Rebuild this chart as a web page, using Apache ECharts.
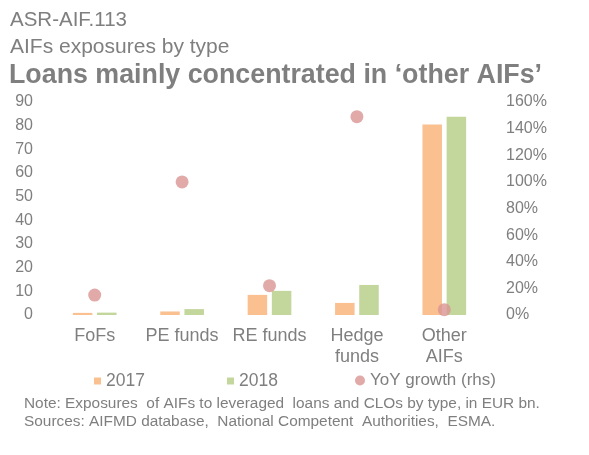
<!DOCTYPE html>
<html>
<head>
<meta charset="utf-8">
<script src="https://cdn.jsdelivr.net/npm/echarts@6/dist/echarts.min.js"></script>
<style>
  html, body { margin: 0; padding: 0; background: #ffffff; }
  #chart { width: 589px; height: 455px; }
</style>
</head>
<body>
<div id="chart"></div>
<script>
// AIF exposures to leveraged loans and CLOs, EUR bn, by fund type
const categories = ['FoFs', 'PE funds', 'RE funds', 'Hedge\nfunds', 'Other\nAIFs'];
const exposures2017 = [0.9, 1.5, 8.5, 5.1, 80.5];
const exposures2018 = [1.0, 2.5, 10.2, 12.7, 83.8];
const yoyGrowth = [15, 100, 22, 149, 4];   // per cent, right-hand scale

const leftTicks = { min: 0, max: 90, interval: 10 };
const rightTicks = { min: 0, max: 160, interval: 20 };

const FONT = '"Liberation Sans", Arial, Helvetica, sans-serif';
const GREY = '#7f7f7f';
const C2017 = '#fac090';
const C2018 = '#c3d69b';
const CYOY = '#d99594';

const chart = echarts.init(document.getElementById('chart'), null, { renderer: 'canvas' });

function textEl(x, y, text, size, weight) {
  return {
    type: 'text',
    x: x, y: y,
    style: {
      text: text,
      fontFamily: FONT,
      fontSize: size,
      fontWeight: weight || 'normal',
      fill: GREY,
      verticalAlign: 'middle',
      align: 'left'
    }
  };
}

chart.setOption({
  animation: false,
  backgroundColor: '#ffffff',
  textStyle: { fontFamily: FONT },
  graphic: [
    textEl(10, 20, 'ASR-AIF.113', 20.5),
    textEl(10, 47.5, 'AIFs exposures by type', 21),
    textEl(9, 75.5, 'Loans mainly concentrated in \u2018other AIFs\u2019', 26.8, 'bold'),
    textEl(24, 404, 'Note: Exposures  of AIFs to leveraged  loans and CLOs by type, in EUR bn.', 15.4),
    textEl(24, 422, 'Sources: AIFMD database,  National Competent  Authorities,  ESMA.', 15.4)
  ],
  grid: { left: 51, right: 101, top: 102, bottom: 140, containLabel: false },
  legend: [
    {
      left: 94, top: 372, itemWidth: 7, itemHeight: 7, padding: 0,
      icon: 'rect',
      textStyle: { color: GREY, fontSize: 17.5, fontFamily: FONT },
      data: ['2017']
    },
    {
      left: 227, top: 372, itemWidth: 7, itemHeight: 7, padding: 0,
      icon: 'rect',
      textStyle: { color: GREY, fontSize: 17.5, fontFamily: FONT },
      data: ['2018']
    },
    {
      left: 355, top: 372, itemWidth: 10, itemHeight: 10, padding: 0,
      icon: 'circle',
      textStyle: { color: GREY, fontSize: 17, fontFamily: FONT },
      data: ['YoY growth (rhs)']
    }
  ],
  xAxis: {
    type: 'category',
    data: categories,
    axisLine: { show: false },
    axisTick: { show: false },
    splitLine: { show: false },
    axisLabel: {
      color: GREY, fontSize: 18, fontFamily: FONT,
      lineHeight: 21.5, margin: 10, interval: 0
    }
  },
  yAxis: [
    {
      type: 'value',
      min: leftTicks.min, max: leftTicks.max, interval: leftTicks.interval,
      axisLine: { show: false },
      axisTick: { show: false },
      splitLine: { show: false },
      axisLabel: { color: GREY, fontSize: 16, fontFamily: FONT, margin: 18 }
    },
    {
      type: 'value',
      min: rightTicks.min, max: rightTicks.max, interval: rightTicks.interval,
      position: 'right',
      axisLine: { show: false },
      axisTick: { show: false },
      splitLine: { show: false },
      axisLabel: {
        color: GREY, fontSize: 16, fontFamily: FONT, margin: 18,
        formatter: function (v) { return v + '%'; }
      }
    }
  ],
  series: [
    {
      name: '2017',
      type: 'bar',
      data: exposures2017,
      barWidth: 19.5,
      barGap: '24%',
      itemStyle: { color: C2017 }
    },
    {
      name: '2018',
      type: 'bar',
      data: exposures2018,
      barWidth: 19.5,
      itemStyle: { color: C2018 }
    },
    {
      name: 'YoY growth (rhs)',
      type: 'scatter',
      yAxisIndex: 1,
      data: yoyGrowth,
      symbol: 'circle',
      symbolSize: 13,
      z: 5,
      itemStyle: { color: CYOY }
    }
  ]
});
</script>
</body>
</html>
